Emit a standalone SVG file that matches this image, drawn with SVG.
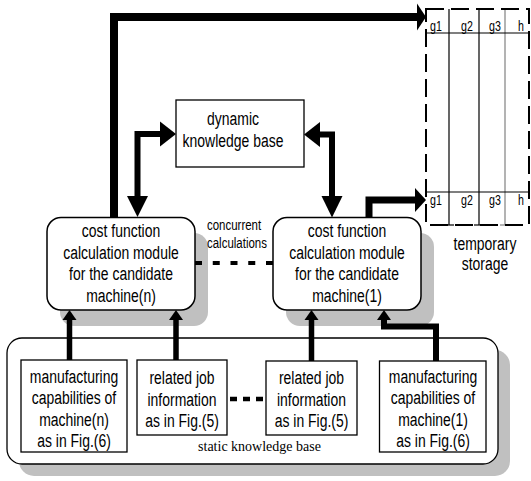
<svg xmlns="http://www.w3.org/2000/svg" width="531" height="481" viewBox="0 0 531 481">
  <style>
    .bg { fill: #ffffff; }
    .shadow { fill: #c0c0c0; stroke: none; }
    .box { fill: #ffffff; stroke: #000000; stroke-width: 1.3; }
    .lbl { font-family: "Liberation Sans", Arial, sans-serif; font-size: 18px; fill: #000000; text-anchor: middle; }
    .small { font-size: 15px; text-anchor: start; }
    .cell { font-size: 14px; }
    .serif { font-family: "Liberation Serif", "Times New Roman", serif; font-size: 14px; fill: #000000; text-anchor: middle; }
    .flow { fill: none; stroke: #000000; stroke-linejoin: miter; stroke-linecap: butt; }
    .head { fill: #000000; stroke: none; }
    .grid { stroke: #000000; stroke-width: 1.2; fill: none; }
    .dash { fill: none; stroke: #000000; stroke-width: 2; stroke-dasharray: 18 7; }
  </style>

  <rect class="bg" x="0" y="0" width="531" height="481"/>

  <!-- static knowledge base container -->
  <g id="static-kb">
    <rect class="shadow" x="19" y="350" width="491" height="126" rx="15"/>
    <rect class="box" x="7" y="338" width="491" height="126" rx="15"/>
    <text class="serif" x="259.5" y="451">static knowledge base</text>
  </g>

  <!-- temporary storage table -->
  <g id="temporary-storage">
    <line class="grid" x1="449" y1="9" x2="449" y2="225"/>
    <line class="grid" x1="479" y1="9" x2="479" y2="225"/>
    <line class="grid" x1="505" y1="9" x2="505" y2="225" style="stroke:#808080"/>
    <line class="grid" x1="444" y1="225" x2="454" y2="225"/>
    <line class="grid" x1="474" y1="225" x2="484" y2="225"/>
    <line class="grid" x1="500" y1="225" x2="510" y2="225" style="stroke:#808080"/>
    <line class="grid" x1="426" y1="33" x2="529" y2="33"/>
    <line class="grid" x1="426" y1="192" x2="529" y2="192"/>
    <rect class="dash" x="426" y="9" width="103" height="216"/>
    <text class="lbl cell" transform="translate(436,30.5) scale(0.76,1)">g1</text>
    <text class="lbl cell" transform="translate(467,30.5) scale(0.76,1)">g2</text>
    <text class="lbl cell" transform="translate(495,30.5) scale(0.76,1)">g3</text>
    <text class="lbl cell" transform="translate(521,30.5) scale(0.76,1)">h</text>
    <text class="lbl cell" transform="translate(436,204.5) scale(0.76,1)">g1</text>
    <text class="lbl cell" transform="translate(467,204.5) scale(0.76,1)">g2</text>
    <text class="lbl cell" transform="translate(495,204.5) scale(0.76,1)">g3</text>
    <text class="lbl cell" transform="translate(521,204.5) scale(0.76,1)">h</text>
    <text class="lbl" transform="translate(485,249.5) scale(0.775,1)">temporary</text>
    <text class="lbl" transform="translate(485,270) scale(0.775,1)">storage</text>
  </g>

  <!-- dynamic knowledge base -->
  <g id="dynamic-kb">
    <rect class="box" x="176" y="100" width="128" height="67"/>
    <text class="lbl" transform="translate(233,125) scale(0.775,1)">dynamic</text>
    <text class="lbl" transform="translate(233,146.5) scale(0.775,1)">knowledge base</text>
  </g>

  <!-- cost function module for machine(n) -->
  <g id="module-n">
    <rect class="shadow" x="60" y="233" width="148" height="93" rx="14"/>
    <rect class="box" x="47" y="217.5" width="148" height="92.5" rx="14" style="stroke-width:1.5"/>
    <text class="lbl" transform="translate(121,237) scale(0.775,1)">cost function</text>
    <text class="lbl" transform="translate(121,258.5) scale(0.775,1)">calculation module</text>
    <text class="lbl" transform="translate(121,280) scale(0.775,1)">for the candidate</text>
    <text class="lbl" transform="translate(121,301.5) scale(0.775,1)">machine(n)</text>
  </g>

  <!-- cost function module for machine(1) -->
  <g id="module-1">
    <rect class="shadow" x="286" y="233" width="148" height="93" rx="14"/>
    <rect class="box" x="273" y="217.5" width="148" height="92.5" rx="14" style="stroke-width:1.5"/>
    <text class="lbl" transform="translate(347,237) scale(0.775,1)">cost function</text>
    <text class="lbl" transform="translate(347,258.5) scale(0.775,1)">calculation module</text>
    <text class="lbl" transform="translate(347,280) scale(0.775,1)">for the candidate</text>
    <text class="lbl" transform="translate(347,301.5) scale(0.775,1)">machine(1)</text>
  </g>

  <g id="concurrent-note">
    <text class="lbl small" transform="translate(207,230) scale(0.765,1)">concurrent</text>
    <text class="lbl small" transform="translate(207,248) scale(0.765,1)">calculations</text>
  </g>

  <!-- source boxes inside the static knowledge base -->
  <g id="capabilities-n">
    <rect class="box" x="21" y="360" width="106" height="92"/>
    <text class="lbl" transform="translate(74,383) scale(0.775,1)">manufacturing</text>
    <text class="lbl" transform="translate(74,404) scale(0.775,1)">capabilities of</text>
    <text class="lbl" transform="translate(74,425.5) scale(0.775,1)">machine(n)</text>
    <text class="lbl" transform="translate(74,447) scale(0.775,1)">as in Fig.(6)</text>
  </g>
  <g id="job-info-n">
    <rect class="box" x="137" y="360" width="90" height="75"/>
    <text class="lbl" transform="translate(182,384) scale(0.775,1)">related job</text>
    <text class="lbl" transform="translate(182,405.5) scale(0.775,1)">information</text>
    <text class="lbl" transform="translate(182,427) scale(0.775,1)">as in Fig.(5)</text>
  </g>
  <g id="job-info-1">
    <rect class="box" x="266" y="361" width="91" height="74"/>
    <text class="lbl" transform="translate(311.5,384) scale(0.775,1)">related job</text>
    <text class="lbl" transform="translate(311.5,405.5) scale(0.775,1)">information</text>
    <text class="lbl" transform="translate(311.5,427) scale(0.775,1)">as in Fig.(5)</text>
  </g>
  <g id="capabilities-1">
    <rect class="box" x="379.5" y="361" width="106.5" height="91"/>
    <text class="lbl" transform="translate(433,383) scale(0.775,1)">manufacturing</text>
    <text class="lbl" transform="translate(433,404) scale(0.775,1)">capabilities of</text>
    <text class="lbl" transform="translate(433,425.5) scale(0.775,1)">machine(1)</text>
    <text class="lbl" transform="translate(433,447) scale(0.775,1)">as in Fig.(6)</text>
  </g>

  <!-- connectors -->
  <g id="connectors">
    <!-- machine(n) results to the first storage row -->
    <path class="flow" d="M114,217 V17 H418" style="stroke-width:8"/>
    <polygon class="head" points="417,3.5 426,17 417,30.5"/>

    <!-- machine(1) results to the last storage row -->
    <path class="flow" d="M369,217 V200 H416" style="stroke-width:7"/>
    <polygon class="head" points="415,188 426,200 415,212"/>

    <!-- two-way links with the dynamic knowledge base -->
    <path class="flow" d="M137.5,197 V134 H161" style="stroke-width:6"/>
    <polygon class="head" points="160,121.5 176,134 160,146.5"/>
    <polygon class="head" points="127,196 148,196 137.5,217"/>

    <path class="flow" d="M332,197 V134.5 H319" style="stroke-width:6"/>
    <polygon class="head" points="320,122 304,134.5 320,147"/>
    <polygon class="head" points="321.5,196 342.5,196 332,217.5"/>

    <!-- concurrent calculations -->
    <path class="flow" d="M195,263 H273" style="stroke-width:4;stroke-dasharray:7 10.75"/>
    <path class="flow" d="M230,399 H263" style="stroke-width:4.5;stroke-dasharray:7 6"/>

    <!-- static data feeding the modules -->
    <path class="flow" d="M69.5,360 V319" style="stroke-width:5.5"/>
    <polygon class="head" points="62.5,320 76.5,320 69.5,310"/>
    <path class="flow" d="M176,360 V319" style="stroke-width:5.5"/>
    <polygon class="head" points="169,320 183,320 176,310"/>
    <path class="flow" d="M311.5,361 V319" style="stroke-width:5.5"/>
    <polygon class="head" points="304.5,320 318.5,320 311.5,310"/>
    <path class="flow" d="M436,361 V326.5 H384 V319" style="stroke-width:6"/>
    <polygon class="head" points="377,320 391,320 384,310"/>
  </g>
</svg>
